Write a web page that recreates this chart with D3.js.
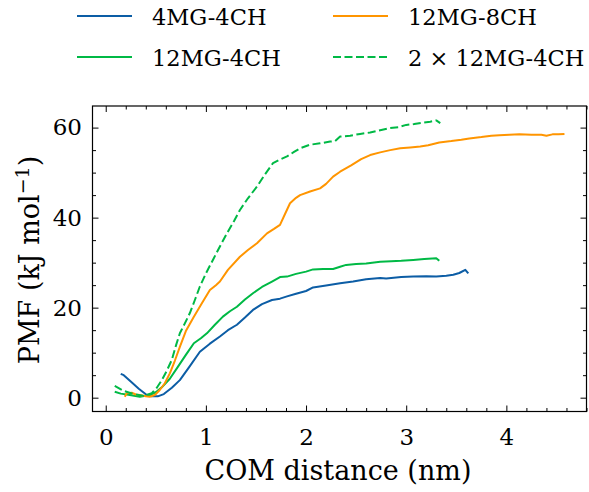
<!DOCTYPE html>
<html><head><meta charset="utf-8">
<script src="https://cdn.jsdelivr.net/npm/d3@7"></script>
<style>html,body{margin:0;padding:0;background:#fff;} svg{display:block;} svg text{font-family:"DejaVu Serif",serif;}</style>
</head><body>
<svg id="chart" width="589" height="492"></svg>
<script>
const seriesNames = ["4MG-4CH", "12MG-8CH", "12MG-4CH", "2 \u00d7 12MG-4CH"];
const seriesColors = ["#0C5DA5", "#FF9500", "#00B945", "#00B945"];
const seriesDash = [null, null, null, "8,3.5"];

const x4MG4CH = [0.15,0.18,0.25,0.33,0.41,0.46,0.52,0.58,0.66,0.74,0.84,0.94,1.04,1.14,1.22,1.31,1.39,1.47,1.56,1.66,1.74,1.81,1.90,2.00,2.07,2.20,2.34,2.47,2.60,2.74,2.80,2.95,3.07,3.20,3.30,3.40,3.47,3.53,3.59,3.62];
const y4MG4CH = [5.3,5.0,3.6,2.0,0.6,0.3,0.3,0.8,2.2,3.9,7.0,10.2,12.0,13.6,15.0,16.2,17.8,19.5,20.8,21.7,22.0,22.5,23.1,23.7,24.5,24.9,25.4,25.8,26.3,26.6,26.5,26.8,26.9,27.0,26.9,27.1,27.3,27.7,28.4,27.6];

const x12MG8CH = [0.19,0.21,0.26,0.30,0.34,0.40,0.44,0.49,0.54,0.59,0.64,0.69,0.74,0.80,0.88,0.96,1.04,1.10,1.14,1.22,1.34,1.42,1.51,1.61,1.68,1.74,1.79,1.84,1.90,1.94,2.04,2.14,2.20,2.27,2.34,2.45,2.55,2.64,2.74,2.84,2.94,3.04,3.14,3.22,3.33,3.45,3.55,3.63,3.75,3.85,3.93,4.03,4.13,4.25,4.35,4.40,4.46,4.52,4.58];
const y12MG8CH = [0.2,1.0,1.1,0.7,0.6,0.3,0.2,0.6,1.7,3.2,5.4,8.2,11.3,14.8,18.0,21.0,23.9,25.0,25.8,28.4,31.3,32.8,34.3,36.5,37.5,38.4,40.8,43.2,44.4,45.0,45.8,46.5,47.5,49.1,50.2,51.6,53.0,53.9,54.5,55.0,55.4,55.6,55.8,56.1,56.7,57.0,57.3,57.6,57.9,58.2,58.3,58.4,58.5,58.4,58.4,58.2,58.5,58.5,58.6];

const x12MG4CH = [0.09,0.15,0.24,0.34,0.44,0.50,0.56,0.64,0.71,0.80,0.88,0.95,1.01,1.09,1.17,1.24,1.31,1.39,1.47,1.56,1.66,1.74,1.81,1.90,2.00,2.07,2.17,2.27,2.34,2.40,2.50,2.60,2.74,2.85,2.95,3.07,3.18,3.30,3.33];
const y12MG4CH = [1.3,0.9,0.6,0.2,0.6,1.2,2.3,4.2,6.5,9.5,12.1,13.2,14.3,16.2,18.0,19.2,20.2,21.8,23.2,24.6,25.8,26.8,26.9,27.5,28.0,28.5,28.6,28.6,29.1,29.5,29.7,29.8,30.2,30.3,30.4,30.6,30.8,31.0,30.4];

const x2x12MG4CH = [0.09,0.18,0.28,0.38,0.46,0.51,0.56,0.61,0.66,0.70,0.74,0.79,0.84,0.89,0.94,1.00,1.07,1.14,1.21,1.28,1.34,1.42,1.51,1.59,1.67,1.74,1.81,1.88,1.94,2.04,2.14,2.24,2.29,2.34,2.44,2.54,2.64,2.74,2.84,2.92,3.00,3.08,3.17,3.24,3.30,3.34];
const y2x12MG4CH = [2.6,1.5,0.8,0.4,1.0,2.2,3.9,6.0,8.4,11.5,14.3,16.5,18.8,21.7,24.7,27.6,30.6,33.6,36.5,39.2,41.7,44.3,46.9,49.6,52.1,52.9,53.6,54.6,55.4,56.2,56.5,56.9,57.0,58.0,58.2,58.6,58.9,59.4,59.9,60.1,60.6,60.8,61.1,61.3,61.6,61.0];

const xTicks = [0, 1, 2, 3, 4];
const yTicks = [0, 20, 40, 60];

const seriesX = [x4MG4CH, x12MG8CH, x12MG4CH, x2x12MG4CH];
const seriesY = [y4MG4CH, y12MG8CH, y12MG4CH, y2x12MG4CH];
const drawOrder = [0, 2, 1, 3];

const svg = d3.select("#chart");
const L = 92.5, R = 586.5, T = 106, B = 411.5;

const x = d3.scaleLinear().domain([-0.132, 4.80]).range([L, R]);
const y = d3.scaleLinear().domain([-3.07, 64.8]).range([B, T]);

svg.append("defs").append("clipPath").attr("id", "clip")
  .append("rect").attr("x", L).attr("y", T).attr("width", R - L).attr("height", B - T);

const line = d3.line().x(d => x(d[0])).y(d => y(d[1]));
const plot = svg.append("g").attr("clip-path", "url(#clip)");
drawOrder.forEach(i => {
  const pts = seriesX[i].map((v, k) => [v, seriesY[i][k]]);
  plot.append("path").datum(pts).attr("d", line)
    .attr("fill", "none").attr("stroke", seriesColors[i])
    .attr("stroke-width", 2).attr("stroke-linejoin", "round")
    .attr("stroke-dasharray", seriesDash[i]);
});

const xMinor = d3.range(0, 4.81, 0.2).filter(v => Math.abs(v - Math.round(v)) > 1e-6);
const yMinor = d3.range(0, 64.8, 5).filter(v => v % 20 !== 0);

function styleAxis(g) {
  g.attr("font-family", null);
  g.select(".domain").remove();
  g.selectAll("line").attr("stroke", "#000").attr("stroke-width", 1);
  g.selectAll("text").attr("font-size", 23).attr("fill", "#000");
}
svg.append("g").attr("transform", `translate(0,${B})`)
  .call(d3.axisBottom(x).tickValues(xTicks).tickSize(-6).tickPadding(17).tickFormat(d3.format("d"))).call(styleAxis);
svg.append("g").attr("transform", `translate(0,${B})`)
  .call(d3.axisBottom(x).tickValues(xMinor).tickSize(-3.5).tickFormat("")).call(styleAxis);
svg.append("g").attr("transform", `translate(0,${T})`)
  .call(d3.axisTop(x).tickValues(xTicks).tickSize(-6).tickFormat("")).call(styleAxis);
svg.append("g").attr("transform", `translate(0,${T})`)
  .call(d3.axisTop(x).tickValues(xMinor).tickSize(-3.5).tickFormat("")).call(styleAxis);
svg.append("g").attr("transform", `translate(${L},0)`)
  .call(d3.axisLeft(y).tickValues(yTicks).tickSize(-6).tickPadding(10.5).tickFormat(d3.format("d"))).call(styleAxis);
svg.append("g").attr("transform", `translate(${L},0)`)
  .call(d3.axisLeft(y).tickValues(yMinor).tickSize(-3.5).tickFormat("")).call(styleAxis);
svg.append("g").attr("transform", `translate(${R},0)`)
  .call(d3.axisRight(y).tickValues(yTicks).tickSize(-6).tickFormat("")).call(styleAxis);
svg.append("g").attr("transform", `translate(${R},0)`)
  .call(d3.axisRight(y).tickValues(yMinor).tickSize(-3.5).tickFormat("")).call(styleAxis);

svg.append("rect").attr("x", L).attr("y", T).attr("width", R - L).attr("height", B - T)
  .attr("fill", "none").attr("stroke", "#000").attr("stroke-width", 1.2);

svg.append("text").attr("x", 338).attr("y", 480).attr("text-anchor", "middle")
  .attr("font-size", 27).text("COM distance (nm)");
const yl = svg.append("text").attr("transform", `translate(39,${260}) rotate(-90)`)
  .attr("text-anchor", "middle").attr("font-size", 27);
yl.append("tspan").text("PMF (kJ mol");
yl.append("tspan").attr("dy", -10).attr("font-size", 19).text("\u22121");
yl.append("tspan").attr("dy", 10).text(")");

const legendPos = [[77, 16], [333, 16], [77, 57], [333, 57]];
seriesNames.forEach((name, i) => {
  const [lx, ly] = legendPos[i];
  const g = svg.append("g");
  g.append("line").attr("x1", lx).attr("x2", lx + 55).attr("y1", ly).attr("y2", ly)
    .attr("stroke", seriesColors[i]).attr("stroke-width", 2).attr("stroke-dasharray", seriesDash[i]);
  g.append("text").attr("x", lx + 75).attr("y", ly + 9).attr("font-size", 22.5).text(name);
});
</script>
</body></html>
